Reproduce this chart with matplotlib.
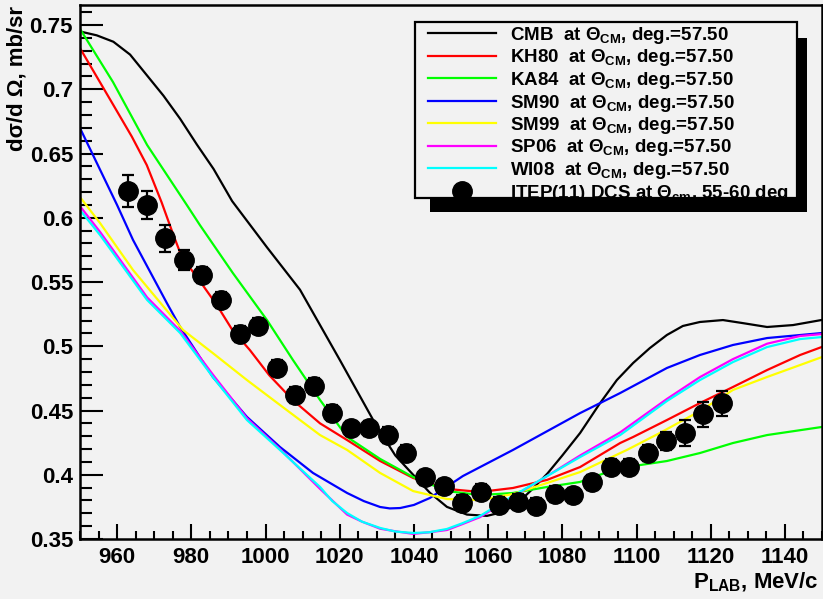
import numpy as np
import matplotlib.pyplot as plt
from matplotlib.patches import Rectangle
from matplotlib.ticker import MultipleLocator, FuncFormatter

plt.rcParams['font.family'] = ['Liberation Sans', 'DejaVu Sans']
plt.rcParams['font.weight'] = 'bold'
plt.rcParams['mathtext.fontset'] = 'custom'
plt.rcParams['mathtext.rm'] = 'Liberation Sans:bold'
plt.rcParams['mathtext.it'] = 'Liberation Sans:bold'
plt.rcParams['mathtext.bf'] = 'Liberation Sans:bold'

# model curves
cmb_x = [950, 954.5, 959, 963.5, 968, 972.5, 977, 981.5, 986, 991, 1000.4, 1009.3, 1020.1,
         1030.1, 1035, 1039.8, 1044.3, 1048.9, 1054.3, 1059.7, 1064, 1068, 1072, 1076, 1080,
         1084.8, 1090, 1094.7, 1099.1, 1103.6, 1108.2, 1112.5, 1117.1, 1123.3, 1128.7, 1135.2,
         1142.2, 1150]
cmb_y = [0.745, 0.742, 0.737, 0.727, 0.711, 0.695, 0.677, 0.657, 0.638, 0.613, 0.577, 0.544,
         0.489, 0.437, 0.415, 0.400, 0.386, 0.375, 0.369, 0.368, 0.371, 0.378, 0.389, 0.401,
         0.415, 0.4325, 0.455, 0.4737, 0.487, 0.4986, 0.5088, 0.5158, 0.5189, 0.5204, 0.518,
         0.515, 0.5165, 0.5205]

kh80_x = [950, 959, 964, 968, 972, 975, 977.5, 981.5, 986.9, 991, 995.8, 1001, 1007.4, 1014.7,
          1022.0, 1030.9, 1039.8, 1048.9, 1057.8, 1066.7, 1075.9, 1084.8, 1095.6, 1099.1,
          1108.2, 1117.1, 1126.0, 1135.2, 1144.1, 1150]
kh80_y = [0.732, 0.6877, 0.663, 0.641, 0.612, 0.588, 0.569, 0.554, 0.532, 0.513, 0.497, 0.4775,
          0.458, 0.440, 0.427, 0.4107, 0.3975, 0.389, 0.3866, 0.3897, 0.396, 0.406, 0.4247,
          0.4294, 0.4426, 0.4558, 0.4683, 0.4815, 0.4932, 0.4995]

ka84_x = [950, 958.9, 968.1, 978.8, 982.3, 991.2, 1000.4, 1007.4, 1014.7, 1022.0, 1030.9,
          1039.8, 1048.9, 1057.8, 1066.7, 1075.9, 1084.8, 1093.7, 1097.4, 1108.2, 1117.1,
          1126.0, 1135.2, 1150]
ka84_y = [0.747, 0.7056, 0.6566, 0.6099, 0.5944, 0.557, 0.5204, 0.4893, 0.4582, 0.4294, 0.4123,
          0.3982, 0.3873, 0.3842, 0.3858, 0.3905, 0.3944, 0.4037, 0.406, 0.4107, 0.4169,
          0.4247, 0.4309, 0.4372]

sm90_x = [950, 960.0, 964.3, 973.4, 977.0, 985.8, 995.0, 1003.9, 1012.8, 1022.0, 1026.5,
          1030.9, 1033.5, 1036.3, 1040, 1044.3, 1048, 1053.2, 1066.7, 1084.8, 1095.6, 1108.2,
          1117.1, 1126.0, 1135.2, 1150]
sm90_y = [0.6698, 0.6099, 0.5827, 0.5337, 0.515, 0.4761, 0.445, 0.4216, 0.4014, 0.3858, 0.3795,
          0.3749, 0.3738, 0.3741, 0.3765, 0.3819, 0.389, 0.399, 0.4193, 0.448, 0.4636, 0.4831,
          0.4932, 0.501, 0.5064, 0.5103]

sm99_x = [950, 955.4, 964.3, 977.8, 985.8, 995.0, 1003.9, 1014.7, 1022.0, 1030.9, 1039.8,
          1048.9, 1057.8, 1066.7, 1075.9, 1084.8, 1097.4, 1106.3, 1117.1, 1126.0, 1135.2,
          1144.1, 1150]
sm99_y = [0.6161, 0.5959, 0.5593, 0.5126, 0.4947, 0.4737, 0.4543, 0.4309, 0.4193, 0.4014, 0.3873,
          0.3811, 0.3803, 0.385, 0.3936, 0.4021, 0.4193, 0.4325, 0.4496, 0.466, 0.4761,
          0.4854, 0.4916]

sp06_x = [950, 955.4, 968.1, 977.0, 985.8, 995.0, 1003.9, 1014.7, 1018, 1022.0, 1026,
          1030.9, 1035, 1039.8, 1044, 1048.9, 1053, 1057.8, 1066.7, 1075.9, 1084.8, 1095.6,
          1108.2, 1117.1, 1126.0, 1135.2, 1144.1, 1150]
sp06_y = [0.609, 0.589, 0.538, 0.512, 0.478, 0.444, 0.420, 0.389, 0.380, 0.369, 0.3635,
          0.358, 0.356, 0.354, 0.3552, 0.357, 0.3615, 0.367, 0.383, 0.399, 0.415, 0.433,
          0.459, 0.476, 0.490, 0.502, 0.508, 0.5095]

wi08_x = [950, 955.4, 968.1, 977.0, 985.8, 995.0, 1003.9, 1014.7, 1018, 1022.0, 1026,
          1030.9, 1035, 1039.8, 1044, 1048.9, 1053, 1057.8, 1066.7, 1075.9, 1084.8, 1095.6,
          1108.2, 1117.1, 1126.0, 1135.2, 1144.1, 1150]
wi08_y = [0.606, 0.5866, 0.536, 0.5103, 0.4761, 0.4426, 0.4193, 0.3905, 0.3795, 0.3702, 0.3635,
          0.3586, 0.3558, 0.3547, 0.3552, 0.3578, 0.3622, 0.3679, 0.3835, 0.399, 0.4138, 0.4309,
          0.4574, 0.4737, 0.4877, 0.4994, 0.5056, 0.5072]

# ITEP(11) measured points
itep_x = [963, 968, 973, 978, 983, 988, 993, 998, 1003, 1008, 1013, 1018, 1023, 1028, 1033,
          1038, 1043, 1048, 1053, 1058, 1063, 1068, 1073, 1078, 1083, 1088, 1093, 1098, 1103,
          1108, 1113, 1118, 1123]
itep_y = [0.621, 0.610, 0.584, 0.567, 0.5555, 0.536, 0.5095, 0.516, 0.483, 0.462, 0.469, 0.448,
          0.436, 0.436, 0.431, 0.417, 0.398, 0.391, 0.378, 0.3866, 0.3765, 0.379, 0.376, 0.385,
          0.384, 0.394, 0.406, 0.406, 0.417, 0.4265, 0.4325, 0.447, 0.4555]
itep_err = [0.0123, 0.011, 0.0104, 0.008, 0.006, 0.006, 0.006, 0.006, 0.006, 0.006, 0.006,
            0.006, 0.006, 0.006, 0.006, 0.006, 0.006, 0.006, 0.006, 0.006, 0.006, 0.006,
            0.006, 0.006, 0.006, 0.006, 0.006, 0.006, 0.006, 0.007, 0.010, 0.010, 0.0098]

tag = ' at Θ$_{\\rm CM}$, deg.=57.50'
models = [
    ('CMB ', cmb_x, cmb_y, '#000000'),
    ('KH80 ', kh80_x, kh80_y, '#ff0000'),
    ('KA84 ', ka84_x, ka84_y, '#00ff00'),
    ('SM90 ', sm90_x, sm90_y, '#0000ff'),
    ('SM99 ', sm99_x, sm99_y, '#ffff00'),
    ('SP06 ', sp06_x, sp06_y, '#ff00ff'),
    ('WI08 ', wi08_x, wi08_y, '#00ffff'),
]

W, H = 823, 599
bg = '#f2f2f2'
fig = plt.figure(figsize=(W / 100, H / 100), dpi=100, facecolor=bg)
ax = fig.add_axes([80 / W, 60 / H, 742 / W, 534 / H], facecolor=bg)

handles = []
for name, xs, ys, col in models:
    ln, = ax.plot(xs, ys, color=col, lw=1.6, label=name + tag)
    handles.append(ln)

eb = ax.errorbar(itep_x, itep_y, yerr=itep_err, fmt='o', color='black', ms=14,
                 elinewidth=1.6, capsize=4.5, capthick=1.6, zorder=10)
eb[0].set_label('ITEP(11) DCS at Θ$_{\\rm cm}$, 55-60 deg')
handles.append(eb[0])

ax.set_xlim(950, 1150)
ax.set_ylim(0.35, 0.7656)

ax.xaxis.set_major_locator(MultipleLocator(20))
ax.xaxis.set_minor_locator(MultipleLocator(5))
ax.yaxis.set_major_locator(MultipleLocator(0.05))
ax.yaxis.set_minor_locator(MultipleLocator(0.01))
ax.yaxis.set_major_formatter(FuncFormatter(lambda v, p: '%g' % round(v, 3)))

ax.tick_params(axis='both', which='both', direction='in', top=False, right=False,
               width=1.5, labelsize=16, colors='black')
ax.tick_params(axis='x', which='major', length=11, pad=6)
ax.tick_params(axis='x', which='minor', length=6)
ax.tick_params(axis='y', which='major', length=16.5, pad=5)
ax.tick_params(axis='y', which='minor', length=8.5)
for s in ax.spines.values():
    s.set_linewidth(1.8)

fig.text(17 / W, 1 - 6 / H, 'dσ/d Ω, mb/sr', rotation=90, ha='center', va='top',
         fontsize=16, fontweight='bold')
fig.text(819 / W, 1 - 582 / H, 'P$_{\\rm LAB}$, MeV/c', ha='right', va='center',
         fontsize=16, fontweight='bold')

# legend box: fill underneath, outline and drop shadow on top (clips last row like the original)
bx0, bx1, by0, by1 = 415, 797, 22, 198
ax.add_patch(Rectangle((bx0 / W, 1 - by1 / H), (bx1 - bx0) / W, (by1 - by0) / H,
                       transform=fig.transFigure, facecolor=bg, edgecolor='none',
                       zorder=19, clip_on=False))
leg = ax.legend(handles=handles, loc='upper left',
                bbox_to_anchor=(428 / W, 1 - 25 / H), bbox_transform=fig.transFigure,
                borderaxespad=0, borderpad=0, fontsize=13.5, frameon=False, numpoints=1,
                handlelength=3.6, handletextpad=0.75, labelspacing=0.08)
leg.set_zorder(20)
ax.add_patch(Rectangle((bx0 / W, 1 - by1 / H), (bx1 - bx0) / W, (by1 - by0) / H,
                       transform=fig.transFigure, facecolor='none', edgecolor='black',
                       lw=1.6, zorder=21, clip_on=False))
ax.add_patch(Rectangle((bx1 / W, 1 - 212 / H), 10 / W, (212 - 38) / H,
                       transform=fig.transFigure, facecolor='black', edgecolor='none',
                       zorder=21, clip_on=False))
ax.add_patch(Rectangle((430 / W, 1 - 212 / H), (807 - 430) / W, (212 - by1 - 0.5) / H,
                       transform=fig.transFigure, facecolor='black', edgecolor='none',
                       zorder=21, clip_on=False))

fig.savefig('out.png', dpi=100, facecolor=bg)
